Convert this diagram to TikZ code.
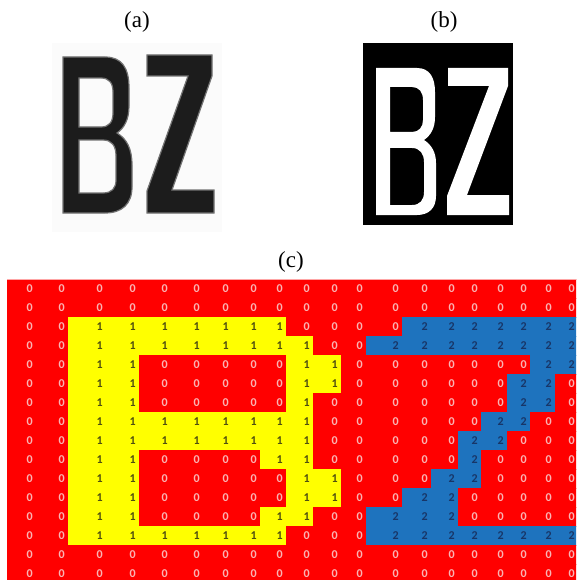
\documentclass[tikz,border=0pt]{standalone}
\usepackage{fontspec}
\setmainfont{Liberation Serif}
\newfontfamily\cellfont{Carlito}
\definecolor{CellRed}{HTML}{FF0000}
\definecolor{CellYellow}{HTML}{FFFF00}
\definecolor{CellBlue}{HTML}{1E73BE}
\definecolor{TxtRed}{HTML}{FAB4B4}
\definecolor{TxtYellow}{HTML}{4F4F10}
\definecolor{TxtBlue}{HTML}{183668}
\definecolor{PlateInk}{HTML}{1C1C1C}
\definecolor{PlatePaper}{HTML}{FBFBFB}
\usetikzlibrary{positioning}

\begin{document}
\begin{tikzpicture}[x=1pt,y=-1pt,
    tag/.style={font=\fontsize{23}{26}\selectfont,inner sep=0pt},
    num/.style={font=\cellfont\bfseries\fontsize{12}{13}\selectfont,inner sep=0pt,anchor=east},
    inka/.style={fill=PlateInk,draw=black!55,line width=1.2pt,even odd rule},
    inkb/.style={fill=white,even odd rule}]
  \useasboundingbox (0,0) rectangle (576,580);
  \clip (0,0) rectangle (576,580);

  % captions
  \node[tag] (capa) at (137,22)  {(a)};
  \node[tag] (capb) at (444,22)  {(b)};
  \node[tag] (capc) at (291,262) {(c)};

  % (a) scanned plate
  \fill[PlatePaper] (52,43) rectangle (222,232);
  \path[inka]
    (63,57) -- (105,57) .. controls (122,57) and (129,68) .. (129,88) -- (129,106)
      .. controls (129,120) and (124,128) .. (117,133)
      .. controls (127,139) and (132,149) .. (132,165) -- (132,187)
      .. controls (132,204) and (122,213) .. (105,213) -- (63,213) -- cycle
    (79,78) -- (101,78) .. controls (109,78) and (113,83) .. (113,92) -- (113,113)
      .. controls (113,122) and (109,127) .. (101,127) -- (79,127) -- cycle
    (79,140) -- (103,140) .. controls (112,140) and (116,146) .. (116,156) -- (116,180)
      .. controls (116,188) and (112,193) .. (103,193) -- (79,193) -- cycle;
  \path[inka] (147,55) -- (212,55) -- (212,76) -- (172,190) -- (214,190) -- (214,213)
    -- (147,213) -- (147,191) -- (188,76) -- (147,76) -- cycle;

  % (b) binary plate
  \fill[black] (363,43) rectangle (513,225);
  \path[inkb]
    (376,68) -- (417,68) .. controls (430,68) and (435,78) .. (435,92) -- (435,117)
      .. controls (435,128) and (431,135) .. (424,140)
      .. controls (432,145) and (436,153) .. (436,163) -- (436,196)
      .. controls (436,208) and (429,215) .. (417,215) -- (376,215) -- cycle
    (390,87) -- (412,87) .. controls (419,87) and (423,92) .. (423,100) -- (423,120)
      .. controls (423,127) and (419,132) .. (412,132) -- (390,132) -- cycle
    (390,148) -- (412,148) .. controls (420,148) and (424,154) .. (424,162) -- (424,192)
      .. controls (424,200) and (420,205) .. (412,205) -- (390,205) -- cycle;
  \path[inkb] (448,68) -- (508,68) -- (508,86) -- (467,195) -- (509,195) -- (509,215)
    -- (447,215) -- (447,196) -- (489,86) -- (448,86) -- cycle;

  % (c) labelled cells
  \def\colx{{7,36,68,106,139,171,203,232,260,286,313,341,366,402,431,458,481,507,530,555,578}}
  \foreach \cells [count=\r from 0] in {
      {0,0,0,0,0,0,0,0,0,0,0,0,0,0,0,0,0,0,0,0},
      {0,0,0,0,0,0,0,0,0,0,0,0,0,0,0,0,0,0,0,0},
      {0,0,1,1,1,1,1,1,1,0,0,0,0,2,2,2,2,2,2,2},
      {0,0,1,1,1,1,1,1,1,1,0,0,2,2,2,2,2,2,2,2},
      {0,0,1,1,0,0,0,0,0,1,1,0,0,0,0,0,0,0,2,2},
      {0,0,1,1,0,0,0,0,0,1,1,0,0,0,0,0,0,2,2,0},
      {0,0,1,1,0,0,0,0,0,1,0,0,0,0,0,0,0,2,2,0},
      {0,0,1,1,1,1,1,1,1,1,0,0,0,0,0,0,2,2,0,0},
      {0,0,1,1,1,1,1,1,1,1,0,0,0,0,0,2,2,0,0,0},
      {0,0,1,1,0,0,0,0,1,1,0,0,0,0,0,2,0,0,0,0},
      {0,0,1,1,0,0,0,0,0,1,1,0,0,0,2,2,0,0,0,0},
      {0,0,1,1,0,0,0,0,0,1,1,0,0,2,2,0,0,0,0,0},
      {0,0,1,1,0,0,0,0,1,1,0,0,2,2,2,0,0,0,0,0},
      {0,0,1,1,1,1,1,1,1,0,0,0,2,2,2,2,2,2,2,2},
      {0,0,0,0,0,0,0,0,0,0,0,0,0,0,0,0,0,0,0,0},
      {0,0,0,0,0,0,0,0,0,0,0,0,0,0,0,0,0,0,0,0}}{
    \foreach \v [count=\c from 0] in \cells {
      \pgfmathsetmacro\xa{\colx[\c]}
      \pgfmathsetmacro\xb{\colx[\c+1]}
      \pgfmathsetmacro\ya{279+19*\r}
      \ifcase\v \def\fc{CellRed}\def\tc{TxtRed}%
      \or \def\fc{CellYellow}\def\tc{TxtYellow}%
      \else \def\fc{CellBlue}\def\tc{TxtBlue}\fi
      \path[fill=\fc,draw=\fc,line width=0.4pt] (\xa,\ya) rectangle (\xb+5,\ya+19);
      \node[num,text=\tc] (n\r-\c) at (\xb-3,\ya+9.5) {\v};
    }
  }
  \draw[red!35,line width=0.8pt] (7,279) -- (582,279);
\end{tikzpicture}
\end{document}
